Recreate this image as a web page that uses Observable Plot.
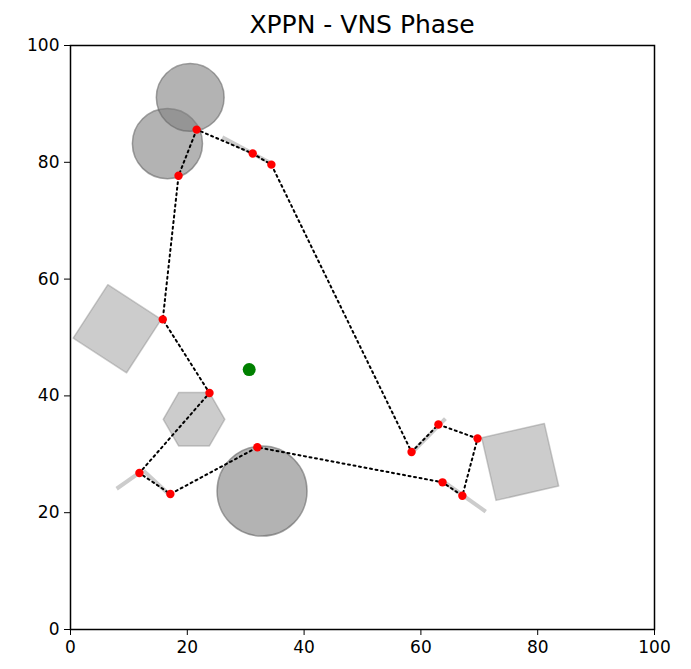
<!DOCTYPE html>
<html>
<head>
<meta charset="utf-8">
<script src="https://cdn.jsdelivr.net/npm/d3@7"></script>
<script src="https://cdn.jsdelivr.net/npm/@observablehq/plot@0.6"></script>
<style>
  body { margin: 0; background: #fff; font-family: "DejaVu Sans", sans-serif; }
  #wrap { position: relative; width: 691px; }
  #title { position: relative; height: 36px; }
  #title span { position: absolute; left: 362px; top: 12px; transform: translateX(-50%);
    font-size: 25px; line-height: 25px; white-space: nowrap; color: #000; }
</style>
</head>
<body>
<div id="wrap">
  <div id="title"><span>XPPN - VNS Phase</span></div>
  <div id="chart"></div>
</div>
<script>
// Tour (closed) through red waypoints
const pathX = [21.6, 18.5, 15.8, 23.8, 11.8, 17.1, 32.0, 63.7, 67.1, 69.7, 63.0, 58.4, 34.4, 31.2];
const pathY = [85.6, 77.7, 53.1, 40.5, 26.8, 23.2, 31.2, 25.2, 22.9, 32.7, 35.1, 30.4, 79.6, 81.5];

// Goal / center point
const goalX = [30.6];
const goalY = [44.5];

// Circular obstacles
const circleX = [20.5, 16.6, 32.8];
const circleY = [91.1, 83.2, 23.7];
const circleR = [5.8, 6.0, 7.7];

// Square obstacles (center, side, rotation in degrees)
const squareX = [8.0, 77.0];
const squareY = [51.5, 28.7];
const squareSide = [10.9, 11.0];
const squareAngle = [-33, 12.9];

// Hexagon obstacle
const hexX = [21.15];
const hexY = [36.0];
const hexR = [5.27];

// Line obstacles
const segX1 = [7.9, 12.5, 26.0, 58.6, 63.9];
const segY1 = [24.1, 27.2, 84.3, 30.4, 25.3];
const segX2 = [12.0, 16.8, 34.4, 64.2, 71.1];
const segY2 = [27.0, 23.2, 79.8, 36.1, 20.2];

const ticks = [0, 20, 40, 60, 80, 100];

// build tables
const tour = pathX.map((x, i) => ({x, y: pathY[i]}));
const tourClosed = [...tour, tour[0]];
const circles = circleX.map((x, i) => ({x, y: circleY[i], r: circleR[i]}));

const polys = [];
squareX.forEach((cx, i) => {
  const h = squareSide[i] / 2, a = squareAngle[i] * Math.PI / 180;
  const corners = [[-h, -h], [h, -h], [h, h], [-h, h], [-h, -h]];
  corners.forEach(([u, v]) => polys.push({
    id: "sq" + i,
    x: cx + u * Math.cos(a) - v * Math.sin(a),
    y: squareY[i] + u * Math.sin(a) + v * Math.cos(a)
  }));
});
hexX.forEach((cx, i) => {
  for (let k = 0; k <= 6; k++) {
    const a = (k % 6) * Math.PI / 3;
    polys.push({id: "hex" + i, x: cx + hexR[i] * Math.cos(a), y: hexY[i] + hexR[i] * Math.sin(a)});
  }
});
const segs = segX1.map((x1, i) => ({x1, y1: segY1[i], x2: segX2[i], y2: segY2[i]}));

const W = 691, H = 633, mL = 70, mR = 37, mT = 9, mB = 40;

const chart = Plot.plot({
  width: W, height: H,
  marginLeft: mL, marginRight: mR, marginTop: mT, marginBottom: mB,
  style: {fontFamily: "DejaVu Sans, sans-serif", fontSize: "17px", color: "#000", background: "#fff"},
  x: {domain: [0, 100], ticks, label: null, tickSize: 6, tickPadding: 5},
  y: {domain: [0, 100], ticks, label: null, tickSize: 6, tickPadding: 5},
  r: {type: "linear", domain: [0, 100], range: [0, W - mL - mR]},
  marks: [
    Plot.line(polys, {x: "x", y: "y", z: "id", fill: "#808080", fillOpacity: 0.4, stroke: "#808080", strokeOpacity: 0.4, strokeWidth: 1.5, curve: "linear"}),
    Plot.dot(circles, {x: "x", y: "y", r: "r", fill: "#808080", fillOpacity: 0.6, stroke: "#666", strokeOpacity: 0.6, strokeWidth: 1.5}),
    Plot.link(segs, {x1: "x1", y1: "y1", x2: "x2", y2: "y2", stroke: "#cccccc", strokeWidth: 4, strokeLinecap: "butt"}),
    Plot.line(tourClosed, {x: "x", y: "y", stroke: "#000", strokeWidth: 2, strokeDasharray: "2,3.6"}),
    Plot.dot(tour, {x: "x", y: "y", r: 4.2, fill: "red", stroke: "none"}),
    Plot.dot(goalX.map((x, i) => ({x, y: goalY[i]})), {x: "x", y: "y", r: 6.5, fill: "green", stroke: "none"}),
    Plot.frame({stroke: "#000", strokeWidth: 1.5})
  ]
});
document.getElementById("chart").appendChild(chart);
</script>
</body>
</html>
